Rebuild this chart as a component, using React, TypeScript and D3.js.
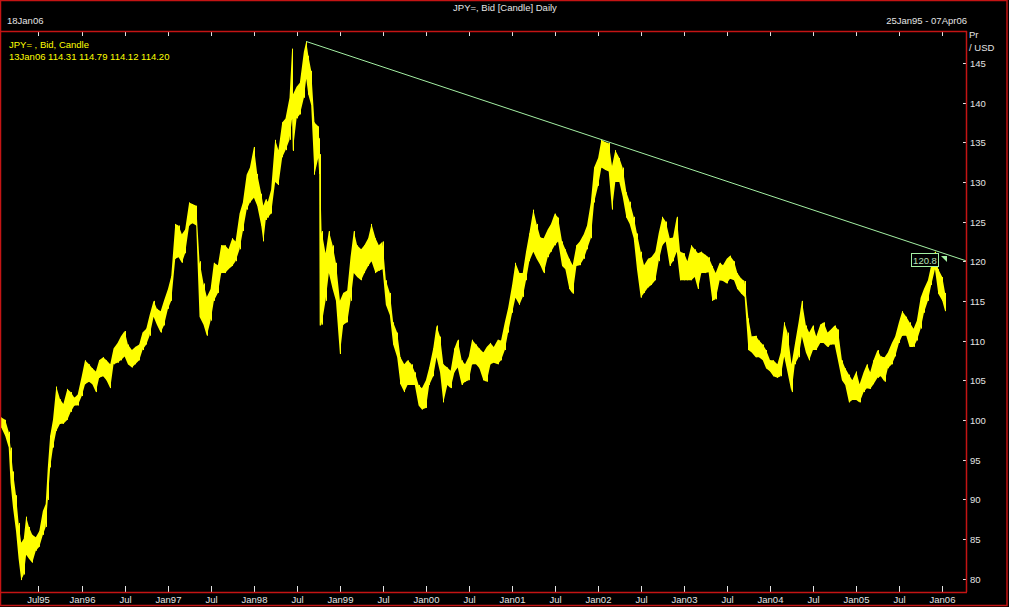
import React from "react";
import * as d3 from "d3";

// ---------- data ----------
const dates: string[] = [
  "1995-01-25","1995-02-10","1995-02-25","1995-03-05","1995-03-15","1995-03-28","1995-04-08","1995-04-19","1995-04-30","1995-05-10","1995-05-22","1995-06-05","1995-06-20","1995-07-05","1995-07-20","1995-08-01","1995-08-10","1995-08-20","1995-09-01","1995-09-15","1995-10-01","1995-10-15","1995-11-01","1995-11-15","1995-12-01","1995-12-15",
  "1996-01-01","1996-01-15","1996-02-01","1996-02-15","1996-03-01","1996-03-15","1996-04-01","1996-04-15","1996-05-01","1996-05-15","1996-06-01","1996-06-15","1996-07-01","1996-07-15","1996-08-01","1996-08-15","1996-09-01","1996-09-15","1996-10-01","1996-10-15","1996-11-01","1996-11-15","1996-12-01","1996-12-15",
  "1997-01-01","1997-01-15","1997-02-01","1997-02-15","1997-03-01","1997-03-15","1997-04-01","1997-04-15","1997-05-01","1997-05-15","1997-06-01","1997-06-15","1997-07-01","1997-07-15","1997-08-01","1997-08-15","1997-09-01","1997-09-15","1997-10-01","1997-10-15","1997-11-01","1997-11-15","1997-12-01","1997-12-15",
  "1998-01-01","1998-01-15","1998-02-01","1998-02-10","1998-02-20","1998-03-01","1998-03-15","1998-04-01","1998-04-15","1998-05-01","1998-05-15","1998-06-01","1998-06-12","1998-06-15","1998-07-01","1998-07-15","1998-08-01","1998-08-11","1998-08-20","1998-09-01","1998-09-15","1998-10-01","1998-10-05","1998-10-07","1998-10-15","1998-11-01","1998-11-15","1998-12-01","1998-12-15",
  "1999-01-01","1999-01-15","1999-02-01","1999-02-15","1999-03-01","1999-03-15","1999-04-01","1999-04-15","1999-05-01","1999-05-15","1999-06-01","1999-06-15","1999-07-01","1999-07-15","1999-08-01","1999-08-15","1999-09-01","1999-09-15","1999-10-01","1999-10-15","1999-11-01","1999-11-15","1999-12-01","1999-12-15",
  "2000-01-01","2000-01-15","2000-02-01","2000-02-15","2000-03-01","2000-03-15","2000-04-01","2000-04-15","2000-05-01","2000-05-15","2000-06-01","2000-06-15","2000-07-01","2000-07-15","2000-08-01","2000-08-15","2000-09-01","2000-09-15","2000-10-01","2000-10-15","2000-11-01","2000-11-15","2000-12-01","2000-12-15",
  "2001-01-01","2001-01-15","2001-02-01","2001-02-15","2001-03-01","2001-03-15","2001-04-01","2001-04-15","2001-05-01","2001-05-15","2001-06-01","2001-06-15","2001-07-01","2001-07-15","2001-08-01","2001-08-15","2001-09-01","2001-09-15","2001-10-01","2001-10-15","2001-11-01","2001-11-15","2001-12-01","2001-12-15",
  "2002-01-01","2002-01-15","2002-02-01","2002-02-15","2002-03-01","2002-03-15","2002-04-01","2002-04-15","2002-05-01","2002-05-15","2002-06-01","2002-06-15","2002-07-01","2002-07-15","2002-08-01","2002-08-15","2002-09-01","2002-09-15","2002-10-01","2002-10-15","2002-11-01","2002-11-15","2002-12-01","2002-12-15",
  "2003-01-01","2003-01-15","2003-02-01","2003-02-15","2003-03-01","2003-03-15","2003-04-01","2003-04-15","2003-05-01","2003-05-15","2003-06-01","2003-06-15","2003-07-01","2003-07-15","2003-08-01","2003-08-15","2003-09-01","2003-09-15","2003-10-01","2003-10-15","2003-11-01","2003-11-15","2003-12-01","2003-12-15",
  "2004-01-01","2004-01-15","2004-02-01","2004-02-15","2004-03-01","2004-03-15","2004-04-01","2004-04-15","2004-05-01","2004-05-15","2004-06-01","2004-06-15","2004-07-01","2004-07-15","2004-08-01","2004-08-15","2004-09-01","2004-09-15","2004-10-01","2004-10-15","2004-11-01","2004-11-15","2004-12-01","2004-12-15",
  "2005-01-01","2005-01-15","2005-02-01","2005-02-15","2005-03-01","2005-03-15","2005-04-01","2005-04-15","2005-05-01","2005-05-15","2005-06-01","2005-06-15","2005-07-01","2005-07-15","2005-08-01","2005-08-15","2005-09-01","2005-09-15","2005-10-01","2005-10-15","2005-11-01","2005-11-15","2005-12-01","2005-12-15",
  "2006-01-01","2006-01-13",
];

const highs: number[] = [
  100.3,100.0,98.5,96.5,93.5,90.5,87.0,84.5,85.0,87.8,86.5,85.5,85.2,86.0,88.5,89.4,94.0,98.0,100.0,104.2,102.6,102.0,103.9,103.5,102.8,103.2,
  105.5,107.5,107.0,106.5,106.1,107.5,107.9,107.5,107.0,109.0,109.7,110.5,111.2,109.5,108.8,109.2,109.5,111.0,111.5,113.2,115.0,114.0,113.7,115.0,
  116.5,118.1,124.7,124.5,123.4,124.0,127.4,127.2,127.0,120.0,117.2,115.5,116.5,119.8,119.5,122.0,122.0,121.5,122.9,122.5,126.0,127.4,130.9,131.8,
  134.4,131.0,128.5,127.0,127.8,127.5,129.0,135.3,134.0,137.5,138.0,140.6,146.8,141.0,142.0,142.5,146.4,147.7,145.9,144.0,137.5,137.0,135.5,133.5,123.8,121.0,123.8,122.0,119.8,
  115.0,116.0,116.3,120.5,123.8,122.0,121.5,122.0,122.9,124.7,122.9,122.0,122.5,117.6,116.0,112.3,111.0,107.9,107.0,107.5,107.0,106.0,104.4,104.0,
  105.0,106.6,109.0,111.9,110.5,107.0,106.6,106.2,109.0,110.1,107.5,107.0,108.0,110.1,109.5,109.0,108.5,109.2,109.7,109.2,110.1,110.0,112.3,114.1,
  117.0,119.8,118.5,118.5,121.2,123.5,126.5,124.7,123.0,122.9,124.0,124.7,126.0,125.5,122.5,121.5,120.3,119.5,122.0,122.5,123.4,124.5,127.4,131.8,
  133.0,135.3,135.0,134.9,132.0,134.0,133.0,131.8,128.7,127.5,125.6,123.5,121.2,119.5,120.3,120.5,121.2,123.5,125.6,125.0,122.9,123.0,125.6,121.2,
  121.0,120.0,122.0,121.5,121.0,121.2,120.8,120.5,119.4,118.5,119.8,119.5,120.3,120.7,120.0,118.5,117.8,117.5,112.8,110.5,110.6,110.0,109.5,108.8,
  107.5,107.5,107.0,108.5,112.3,111.0,107.0,109.5,112.3,115.0,111.9,111.0,111.9,110.5,112.0,112.3,111.0,111.4,111.9,111.4,107.5,106.5,105.7,105.0,
  106.1,104.5,106.0,107.0,106.0,107.5,108.8,108.0,107.9,108.5,109.7,110.5,112.3,113.7,113.0,112.3,111.5,112.5,115.4,116.5,117.6,119.5,121.2,119.0,
  118.0,116.0,
];

const lows: number[] = [
  99.0,98.0,96.5,92.0,89.0,86.0,82.5,79.8,80.5,83.0,82.5,82.0,83.5,84.0,85.5,86.5,89.9,94.0,96.5,98.6,99.5,99.5,100.0,101.0,101.8,101.8,
  103.0,104.5,104.8,104.5,103.5,105.3,105.5,105.0,104.0,107.0,107.2,107.5,108.0,107.0,106.6,107.0,107.5,108.8,109.5,110.6,113.0,112.0,111.0,111.9,
  114.0,115.0,120.3,120.5,119.8,121.0,124.5,124.8,124.5,113.0,112.0,110.6,112.5,115.0,116.0,118.5,118.5,119.0,119.4,120.0,121.5,123.8,126.5,127.4,
  128.0,127.0,124.5,122.5,125.2,125.5,126.0,130.0,129.6,133.1,134.0,135.3,138.0,133.9,138.0,138.5,140.6,143.0,141.0,139.7,130.9,133.0,131.0,111.9,112.0,115.0,118.5,116.5,115.0,
  108.3,112.0,112.3,115.0,118.5,118.0,117.6,118.5,119.4,120.0,118.5,118.8,119.0,114.5,113.2,109.5,107.9,104.5,103.5,104.4,104.4,104.4,101.8,101.3,
  101.5,104.4,105.5,107.9,106.0,102.2,104.4,104.0,106.0,106.6,104.4,104.8,105.0,107.0,107.0,106.5,105.0,104.8,107.0,107.2,107.0,107.5,108.8,111.0,
  113.5,115.4,114.5,115.5,117.6,120.0,121.2,120.3,119.5,118.5,120.5,121.2,122.0,122.5,119.4,119.0,116.5,115.9,119.4,119.5,120.3,121.5,122.9,127.4,
  129.5,131.8,131.5,131.3,126.5,130.0,130.0,128.2,125.5,124.7,122.9,119.0,115.4,116.0,116.7,117.0,117.6,120.0,122.0,122.5,119.4,120.0,121.2,117.6,
  117.6,117.6,117.6,118.0,116.5,118.5,118.5,118.6,115.0,115.2,117.6,117.5,117.2,117.8,117.6,116.5,115.9,115.5,108.8,108.5,107.9,107.9,107.5,106.5,
  106.1,105.5,105.3,105.5,108.0,106.0,103.5,107.0,107.9,110.5,108.5,107.5,108.8,108.8,109.7,109.7,109.2,109.5,109.5,107.5,105.0,104.4,102.2,102.5,
  102.5,102.2,103.5,104.0,103.9,104.5,105.3,105.5,104.8,106.5,107.0,108.0,109.7,110.6,110.6,109.2,109.2,110.0,111.5,113.5,115.0,117.0,119.0,115.9,
  115.0,113.7,
];

const yTicks: number[] = [80, 85, 90, 95, 100, 105, 110, 115, 120, 125, 130, 135, 140, 145];

const xTickDates: string[] = [
  "1995-07-01","1996-01-01","1996-07-01","1997-01-01","1997-07-01","1998-01-01","1998-07-01",
  "1999-01-01","1999-07-01","2000-01-01","2000-07-01","2001-01-01","2001-07-01","2002-01-01",
  "2002-07-01","2003-01-01","2003-07-01","2004-01-01","2004-07-01","2005-01-01","2005-07-01","2006-01-01",
];
const xTickLabels: string[] = [
  "Jul95","Jan96","Jul","Jan97","Jul","Jan98","Jul","Jan99","Jul","Jan00","Jul","Jan01","Jul","Jan02",
  "Jul","Jan03","Jul","Jan04","Jul","Jan05","Jul","Jan06",
];

const domainDates: string[] = ["1995-01-25", "2006-04-07"];
const trendDates: string[] = ["1998-08-11", "2006-04-07"];
const trendValues: number[] = [147.7, 120.1];
const labelValue = "120.8";

const titleText = "JPY=, Bid [Candle] Daily";
const dateText = "18Jan06";
const rangeText = "25Jan95 - 07Apr06";
const legendLine1 = "JPY= , Bid, Candle";
const legendLine2 = "13Jan06 114.31 114.79 114.12 114.20";

// ---------- layout ----------
const W = 1009;
const H = 607;
const PL = 1;
const PR = 967;
const PT = 31;
const PB = 592;
const RED = "#c41414";
const TXT = "#e4e4e4";
const YEL = "#ffff00";
const GRN = "#a4f0a4";
const FONT = "'Liberation Sans', Arial, sans-serif";
const FS = 9.5;

const parse = d3.timeParse("%Y-%m-%d");

export default function App() {
  const x = d3
    .scaleTime()
    .domain(domainDates.map((d) => parse(d) as Date))
    .range([1.4, 964.9]);
  const y = d3.scaleLinear().domain([80, 145]).range([578.5, 62.9]);

  const n = Math.min(dates.length, highs.length, lows.length);
  const rows = d3.range(n).map((i) => ({
    date: parse(dates[i]) as Date,
    hi: highs[i],
    lo: lows[i],
  }));

  const area = d3
    .area<{ date: Date; hi: number; lo: number }>()
    .x((d) => x(d.date))
    .y0((d) => y(d.lo))
    .y1((d) => y(d.hi))
    .curve(d3.curveLinear);

  // trendline extended to the right border of the plot
  const t0 = parse(trendDates[0]) as Date;
  const t1 = parse(trendDates[1]) as Date;
  const x0 = x(t0), y0 = y(trendValues[0]);
  const x1 = x(t1), y1 = y(trendValues[1]);
  const slope = (y1 - y0) / (x1 - x0);
  const xe = PR;
  const ye = y0 + slope * (xe - x0);

  return (
    <svg
      width={W}
      height={H}
      style={{ position: "absolute", left: 0, top: 0, background: "#000" }}
      fontFamily={FONT}
      fontSize={FS}
    >
      <rect x={0} y={0} width={W} height={H} fill="#000" />
      <defs>
        <clipPath id="plotclip">
          <rect x={PL} y={PT} width={PR - PL} height={PB - PT} />
        </clipPath>
      </defs>

      {/* header */}
      <text x={505} y={11} fill={TXT} textAnchor="middle">{titleText}</text>
      <text x={7} y={24} fill={TXT}>{dateText}</text>
      <text x={967} y={24} fill={TXT} textAnchor="end">{rangeText}</text>

      {/* price band */}
      <g clipPath="url(#plotclip)">
        <path d={area(rows) || ""} fill={YEL} stroke="none" />
        {rows.map((r, i) => (
          <line
            key={i}
            x1={Math.round(x(r.date)) + 0.5}
            x2={Math.round(x(r.date)) + 0.5}
            y1={y(r.hi)}
            y2={y(r.lo)}
            stroke={YEL}
            strokeWidth={1}
          />
        ))}
        <line x1={x0} y1={y0} x2={xe} y2={ye} stroke={GRN} strokeWidth={1} />
      </g>

      {/* legend */}
      <text x={9} y={47.5} fill={YEL}>{legendLine1}</text>
      <text x={9} y={59.5} fill={YEL}>{legendLine2}</text>

      {/* trend value label */}
      <rect x={911.5} y={253.5} width={27} height={13} fill="#000" stroke={GRN} strokeWidth={1} />
      <text x={925} y={263.5} fill="#b8e0b8" textAnchor="middle">{labelValue}</text>
      <polygon points="941,256 947,256 947,262" fill={GRN} />

      {/* x ticks top & bottom + labels */}
      {xTickDates.map((d, i) => {
        const xx = Math.round(x(parse(d) as Date)) + 0.5;
        return (
          <g key={d}>
            <line x1={xx} x2={xx} y1={PT} y2={PT + 5} stroke={TXT} strokeWidth={1} />
            <line x1={xx} x2={xx} y1={PB - 6} y2={PB} stroke={TXT} strokeWidth={1} />
            <text x={xx} y={602.5} fill={TXT} textAnchor="middle">{xTickLabels[i]}</text>
          </g>
        );
      })}

      {/* y ticks + labels */}
      {yTicks.map((v) => {
        const yy = Math.round(y(v)) + 0.5;
        return (
          <g key={v}>
            <line x1={963} x2={966} y1={yy} y2={yy} stroke={TXT} strokeWidth={1} />
            <text x={970} y={yy + 3.3} fill={TXT}>{v}</text>
          </g>
        );
      })}
      <text x={969} y={38} fill={TXT}>Pr</text>
      <text x={969} y={51} fill={TXT}>/ USD</text>

      {/* frames */}
      <rect x={0.5} y={0.5} width={1006.5} height={605} fill="none" stroke={RED} strokeWidth={1.5} />
      <line x1={0} x2={PR} y1={PT + 0.5} y2={PT + 0.5} stroke={RED} strokeWidth={1.5} />
      <line x1={PR - 0.5} x2={PR - 0.5} y1={PT} y2={PB} stroke={RED} strokeWidth={1.5} />
      <line x1={0} x2={PR} y1={PB + 0.5} y2={PB + 0.5} stroke={RED} strokeWidth={1.5} />
    </svg>
  );
}
